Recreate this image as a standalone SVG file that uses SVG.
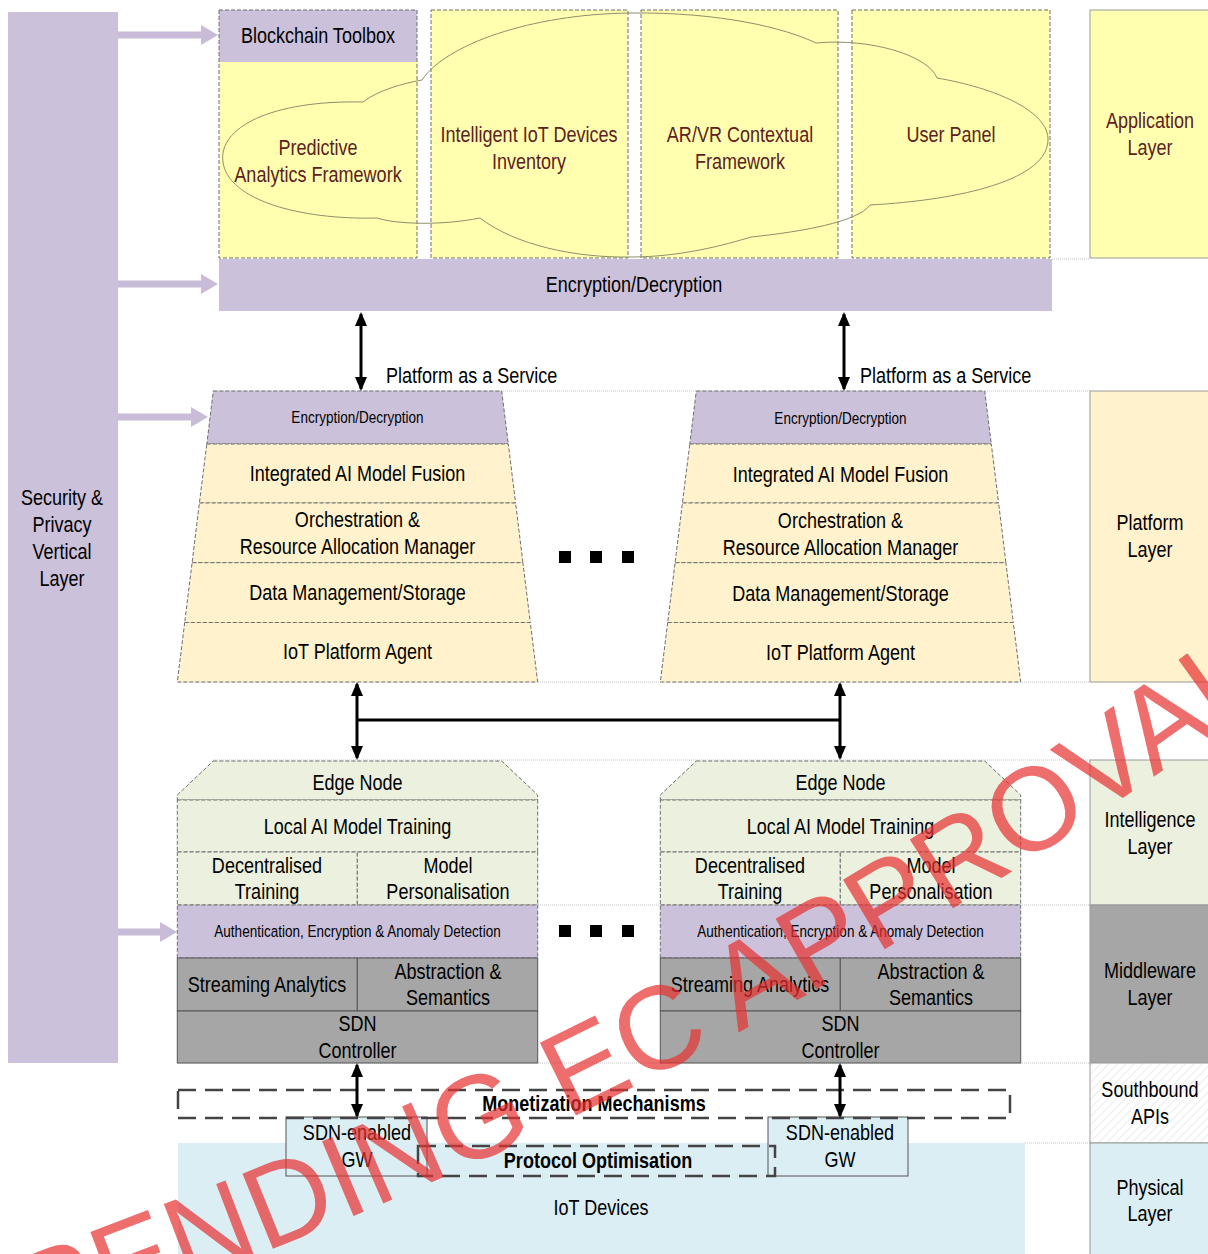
<svg xmlns="http://www.w3.org/2000/svg" width="1208" height="1254" viewBox="0 0 1208 1254">
  <defs>
    <style>
      .t { font-family: "Liberation Sans", Arial, sans-serif; font-size: 22px; fill: #000; text-anchor: middle; dominant-baseline: central; }
      .s { font-size: 16.5px; }
      .b { font-weight: bold; }
      .st { text-anchor: start; }
      .m { fill: #5e2121; }
      .lav { fill: #ccc1da; }
      .yel { fill: #ffffaf; }
      .crm { fill: #fff2cc; }
      .grn { fill: #ebf1de; }
      .gry { fill: #a6a6a6; }
      .blu { fill: #dbeef4; }
      .dash { stroke: #6e6e6e; stroke-width: 1; stroke-dasharray: 4 2; }
      .solid { stroke: #555; stroke-width: 1; }
      .sep { stroke: #c4c4c4; stroke-width: 1; stroke-dasharray: 1 1; fill: none; }
      .layer { stroke: #9a9a9a; stroke-width: 1; }
      .conn { stroke: #000; stroke-width: 3; fill: none; }
      .big-dash { fill: none; stroke: #444; stroke-width: 2.5; stroke-dasharray: 18 9; }
      .sec-arrow { fill: #c8bcd8; }
      .stamp { font-family: "Liberation Sans", Arial, sans-serif; font-size: 118px; fill: #e83030; opacity: 0.7; dominant-baseline: central; }
    </style>
    <marker id="head" viewBox="0 0 14 12" refX="12" refY="6" markerWidth="14" markerHeight="12" markerUnits="userSpaceOnUse" orient="auto-start-reverse">
      <path d="M0,0 L14,6 L0,12 Z" fill="#000"/>
    </marker>
    <pattern id="hatch" width="6" height="6" patternUnits="userSpaceOnUse" patternTransform="rotate(45)">
      <rect width="6" height="6" fill="#fff"/>
      <line x1="0" y1="0" x2="0" y2="6" stroke="#dedede" stroke-width="1.2"/>
    </pattern>
    <!-- curved baseline for the approval stamp -->
    <path id="stamp-arc" d="M22,1301 L208,1230 Q724,1033 1173,713 L1295,626"/>
  </defs>

  <rect width="1208" height="1254" fill="#fff"/>

  <!-- layer boundary guides -->
  <g id="guides">
    <line class="sep" x1="1052" y1="259" x2="1090" y2="259"/>
    <line class="sep" x1="213" y1="391" x2="1090" y2="391"/>
    <line class="sep" x1="178" y1="682" x2="1090" y2="682"/>
    <line class="sep" x1="213" y1="760" x2="1090" y2="760"/>
    <line class="sep" x1="178" y1="905" x2="1090" y2="905"/>
    <line class="sep" x1="178" y1="1063" x2="1090" y2="1063"/>
    <line class="sep" x1="1025" y1="1143" x2="1090" y2="1143"/>
  </g>

  <!-- security & privacy vertical layer -->
  <g id="security-layer">
    <rect class="lav" x="8" y="12" width="110" height="1051"/>
    <text class="t" transform="matrix(.82 0 0 1 62 497)">Security &amp;</text>
    <text class="t" transform="matrix(.82 0 0 1 62 524)">Privacy</text>
    <text class="t" transform="matrix(.82 0 0 1 62 551)">Vertical</text>
    <text class="t" transform="matrix(.82 0 0 1 62 578)">Layer</text>
  </g>

  <!-- security feeds -->
  <g id="security-arrows">
    <path class="sec-arrow" d="M118,31.5 H201 V25 L218,35 L201,45 V38.5 H118 Z"/>
    <path class="sec-arrow" d="M118,280.5 H201 V274 L218,284 L201,294 V287.5 H118 Z"/>
    <path class="sec-arrow" d="M118,413.5 H191 V407 L208,417 L191,427 V420.5 H118 Z"/>
    <path class="sec-arrow" d="M118,928.5 H160 V922 L177,932 L160,942 V935.5 H118 Z"/>
  </g>

  <!-- application layer -->
  <g id="blockchain-toolbox">
    <rect class="yel" x="219" y="10" width="198" height="248"/>
    <rect class="lav" x="219" y="10" width="198" height="52"/>
    <rect x="219" y="10" width="198" height="248" fill="none" class="dash"/>
    <text class="t" transform="matrix(.82 0 0 1 318 35)">Blockchain Toolbox</text>
  </g>
  <g id="iot-inventory">
    <rect class="yel dash" x="431" y="10" width="197" height="248"/>
  </g>
  <g id="arvr-framework">
    <rect class="yel dash" x="641" y="10" width="197" height="248"/>
  </g>
  <g id="user-panel">
    <rect class="yel dash" x="852" y="10" width="198" height="248"/>
  </g>
  <g id="app-cloud">
    <path d="M363,102 C270,100 218,128 223,162 C228,200 300,220 377,218 C395,224 440,226 480,218 C515,245 575,258 631,257 C680,257 725,245 751,237 C800,232 858,222 870,205 C960,200 1050,180 1048,138 C1046,110 995,88 937,78 C928,55 870,38 816,43 C785,28 720,12 631,13 C530,14 445,45 422,80 C405,83 378,90 363,102 Z" fill="none" stroke="#8e8e6c" stroke-width="1"/>
    <text class="t m" transform="matrix(.82 0 0 1 318 147)">Predictive</text>
    <text class="t m" transform="matrix(.82 0 0 1 318 174)">Analytics Framework</text>
    <text class="t m" transform="matrix(.82 0 0 1 529 134)">Intelligent IoT Devices</text>
    <text class="t m" transform="matrix(.82 0 0 1 529 161)">Inventory</text>
    <text class="t m" transform="matrix(.82 0 0 1 740 134)">AR/VR Contextual</text>
    <text class="t m" transform="matrix(.82 0 0 1 740 161)">Framework</text>
    <text class="t m" transform="matrix(.82 0 0 1 951 134)">User Panel</text>
  </g>
  <g id="app-encryption">
    <rect class="lav" x="219" y="259" width="833" height="52"/>
    <text class="t" transform="matrix(.82 0 0 1 634 284)">Encryption/Decryption</text>
  </g>

  <!-- platform instances -->
  <g id="platform-1">
    <polygon class="lav dash" points="213.3,391 501.7,391 508.3,444 206.8,444"/>
    <polygon class="crm dash" points="206.8,444 508.3,444 515.6,503 199.4,503"/>
    <polygon class="crm dash" points="199.4,503 515.6,503 522.9,562.7 192.1,562.7"/>
    <polygon class="crm dash" points="192.1,562.7 522.9,562.7 530.3,622.5 184.7,622.5"/>
    <polygon class="crm dash" points="184.7,622.5 530.3,622.5 537.7,682 177.3,682"/>
    <text class="t s" transform="matrix(.82 0 0 1 357.5 417)">Encryption/Decryption</text>
    <text class="t" transform="matrix(.82 0 0 1 357.5 473)">Integrated AI Model Fusion</text>
    <text class="t" transform="matrix(.82 0 0 1 357.5 519)">Orchestration &amp;</text>
    <text class="t" transform="matrix(.82 0 0 1 357.5 546)">Resource Allocation Manager</text>
    <text class="t" transform="matrix(.82 0 0 1 357.5 592)">Data Management/Storage</text>
    <text class="t" transform="matrix(.82 0 0 1 357.5 651)">IoT Platform Agent</text>
  </g>
  <g id="platform-2">
    <polygon class="lav dash" points="696.3,391 984.7,391 991.3,444 689.8,444"/>
    <polygon class="crm dash" points="689.8,444 991.3,444 998.6,503 682.4,503"/>
    <polygon class="crm dash" points="682.4,503 998.6,503 1005.9,562.7 675.1,562.7"/>
    <polygon class="crm dash" points="675.1,562.7 1005.9,562.7 1013.3,622.5 667.7,622.5"/>
    <polygon class="crm dash" points="667.7,622.5 1013.3,622.5 1020.7,682 660.3,682"/>
    <text class="t s" transform="matrix(.82 0 0 1 840.5 418)">Encryption/Decryption</text>
    <text class="t" transform="matrix(.82 0 0 1 840.5 474)">Integrated AI Model Fusion</text>
    <text class="t" transform="matrix(.82 0 0 1 840.5 520)">Orchestration &amp;</text>
    <text class="t" transform="matrix(.82 0 0 1 840.5 547)">Resource Allocation Manager</text>
    <text class="t" transform="matrix(.82 0 0 1 840.5 593)">Data Management/Storage</text>
    <text class="t" transform="matrix(.82 0 0 1 840.5 652)">IoT Platform Agent</text>
  </g>
  <g id="platform-ellipsis">
    <rect x="559" y="551" width="12" height="12"/>
    <rect x="590" y="551" width="12" height="12"/>
    <rect x="622" y="551" width="12" height="12"/>
  </g>

  <!-- edge nodes -->
  <g id="edge-node-1">
    <polygon class="grn dash" points="213.3,761 501.7,761 537.7,795 537.7,800 177.3,800 177.3,795"/>
    <rect class="grn dash" x="177.3" y="800" width="360.4" height="52"/>
    <rect class="grn dash" x="177.3" y="852" width="180" height="53"/>
    <rect class="grn dash" x="357.3" y="852" width="180.4" height="53"/>
    <rect class="lav dash" x="177.3" y="905" width="360.4" height="53"/>
    <rect class="gry solid" x="177.3" y="958" width="180" height="53"/>
    <rect class="gry solid" x="357.3" y="958" width="180.4" height="53"/>
    <rect class="gry solid" x="177.3" y="1011" width="360.4" height="52"/>
    <text class="t" transform="matrix(.82 0 0 1 357.5 782)">Edge Node</text>
    <text class="t" transform="matrix(.82 0 0 1 357.5 826)">Local AI Model Training</text>
    <text class="t" transform="matrix(.82 0 0 1 267 865)">Decentralised</text>
    <text class="t" transform="matrix(.82 0 0 1 267 891)">Training</text>
    <text class="t" transform="matrix(.82 0 0 1 448 865)">Model</text>
    <text class="t" transform="matrix(.82 0 0 1 448 891)">Personalisation</text>
    <text class="t s" transform="matrix(.82 0 0 1 357.5 931)">Authentication, Encryption &amp; Anomaly Detection</text>
    <text class="t" transform="matrix(.82 0 0 1 267 984)">Streaming Analytics</text>
    <text class="t" transform="matrix(.82 0 0 1 448 971)">Abstraction &amp;</text>
    <text class="t" transform="matrix(.82 0 0 1 448 997)">Semantics</text>
    <text class="t" transform="matrix(.82 0 0 1 357.5 1023)">SDN</text>
    <text class="t" transform="matrix(.82 0 0 1 357.5 1050)">Controller</text>
  </g>
  <g id="edge-node-2">
    <polygon class="grn dash" points="696.3,761 984.7,761 1020.7,795 1020.7,800 660.3,800 660.3,795"/>
    <rect class="grn dash" x="660.3" y="800" width="360.4" height="52"/>
    <rect class="grn dash" x="660.3" y="852" width="180" height="53"/>
    <rect class="grn dash" x="840.3" y="852" width="180.4" height="53"/>
    <rect class="lav dash" x="660.3" y="905" width="360.4" height="53"/>
    <rect class="gry solid" x="660.3" y="958" width="180" height="53"/>
    <rect class="gry solid" x="840.3" y="958" width="180.4" height="53"/>
    <rect class="gry solid" x="660.3" y="1011" width="360.4" height="52"/>
    <text class="t" transform="matrix(.82 0 0 1 840.5 782)">Edge Node</text>
    <text class="t" transform="matrix(.82 0 0 1 840.5 826)">Local AI Model Training</text>
    <text class="t" transform="matrix(.82 0 0 1 750 865)">Decentralised</text>
    <text class="t" transform="matrix(.82 0 0 1 750 891)">Training</text>
    <text class="t" transform="matrix(.82 0 0 1 931 865)">Model</text>
    <text class="t" transform="matrix(.82 0 0 1 931 891)">Personalisation</text>
    <text class="t s" transform="matrix(.82 0 0 1 840.5 931)">Authentication, Encryption &amp; Anomaly Detection</text>
    <text class="t" transform="matrix(.82 0 0 1 750 984)">Streaming Analytics</text>
    <text class="t" transform="matrix(.82 0 0 1 931 971)">Abstraction &amp;</text>
    <text class="t" transform="matrix(.82 0 0 1 931 997)">Semantics</text>
    <text class="t" transform="matrix(.82 0 0 1 840.5 1023)">SDN</text>
    <text class="t" transform="matrix(.82 0 0 1 840.5 1050)">Controller</text>
  </g>
  <g id="edge-ellipsis">
    <rect x="559" y="925" width="12" height="12"/>
    <rect x="590" y="925" width="12" height="12"/>
    <rect x="622" y="925" width="12" height="12"/>
  </g>

  <!-- physical layer -->
  <g id="iot-devices">
    <rect class="blu" x="178" y="1143" width="847" height="111"/>
    <text class="t" transform="matrix(.82 0 0 1 601 1207)">IoT Devices</text>
  </g>
  <g id="gateway-1">
    <rect class="blu solid" x="286" y="1117" width="141" height="59"/>
    <text class="t" transform="matrix(.82 0 0 1 357 1132)">SDN-enabled</text>
    <text class="t" transform="matrix(.82 0 0 1 357 1159)">GW</text>
  </g>
  <g id="gateway-2">
    <rect class="blu solid" x="768" y="1117" width="140" height="59"/>
    <text class="t" transform="matrix(.82 0 0 1 840 1132)">SDN-enabled</text>
    <text class="t" transform="matrix(.82 0 0 1 840 1159)">GW</text>
  </g>
  <g id="protocol-optimisation">
    <rect class="big-dash" x="418" y="1146" width="357" height="30"/>
    <text class="t b" transform="matrix(.82 0 0 1 598 1160)">Protocol Optimisation</text>
  </g>
  <g id="monetization">
    <rect class="big-dash" x="178" y="1090" width="832" height="28"/>
    <text class="t b" transform="matrix(.82 0 0 1 594 1103)">Monetization Mechanisms</text>
  </g>

  <!-- layer legend -->
  <g id="application-layer">
    <rect class="yel layer" x="1090" y="10" width="125" height="248"/>
    <text class="t m" transform="matrix(.82 0 0 1 1150 120)">Application</text>
    <text class="t m" transform="matrix(.82 0 0 1 1150 147)">Layer</text>
  </g>
  <g id="platform-layer">
    <rect class="crm layer" x="1090" y="391" width="125" height="291"/>
    <text class="t" transform="matrix(.82 0 0 1 1150 522)">Platform</text>
    <text class="t" transform="matrix(.82 0 0 1 1150 549)">Layer</text>
  </g>
  <g id="intelligence-layer">
    <rect class="grn layer" x="1090" y="760" width="125" height="145"/>
    <text class="t" transform="matrix(.82 0 0 1 1150 819)">Intelligence</text>
    <text class="t" transform="matrix(.82 0 0 1 1150 846)">Layer</text>
  </g>
  <g id="middleware-layer">
    <rect class="gry layer" x="1090" y="905" width="125" height="158"/>
    <text class="t" transform="matrix(.82 0 0 1 1150 970)">Middleware</text>
    <text class="t" transform="matrix(.82 0 0 1 1150 997)">Layer</text>
  </g>
  <g id="southbound-apis">
    <rect class="layer" fill="url(#hatch)" x="1090" y="1063" width="125" height="80"/>
    <text class="t" transform="matrix(.82 0 0 1 1150 1089)">Southbound</text>
    <text class="t" transform="matrix(.82 0 0 1 1150 1116)">APIs</text>
  </g>
  <g id="physical-layer">
    <rect class="blu layer" x="1090" y="1143" width="125" height="120"/>
    <text class="t" transform="matrix(.82 0 0 1 1150 1187)">Physical</text>
    <text class="t" transform="matrix(.82 0 0 1 1150 1213)">Layer</text>
  </g>

  <!-- connectors -->
  <g id="connectors">
    <line class="conn" x1="361" y1="314" x2="361" y2="389" marker-start="url(#head)" marker-end="url(#head)"/>
    <line class="conn" x1="844" y1="314" x2="844" y2="389" marker-start="url(#head)" marker-end="url(#head)"/>
    <text class="t st" transform="matrix(.82 0 0 1 386 375)">Platform as a Service</text>
    <text class="t st" transform="matrix(.82 0 0 1 860 375)">Platform as a Service</text>
    <line class="conn" x1="357" y1="684" x2="357" y2="758" marker-start="url(#head)" marker-end="url(#head)"/>
    <line class="conn" x1="840" y1="684" x2="840" y2="758" marker-start="url(#head)" marker-end="url(#head)"/>
    <line class="conn" x1="357" y1="720" x2="840" y2="720"/>
    <line class="conn" x1="357" y1="1065" x2="357" y2="1116" marker-start="url(#head)" marker-end="url(#head)"/>
    <line class="conn" x1="840" y1="1065" x2="840" y2="1116" marker-start="url(#head)" marker-end="url(#head)"/>
  </g>

  <!-- approval stamp -->
  <text class="stamp"><textPath href="#stamp-arc">PENDING EC APPROVAL</textPath></text>
</svg>
